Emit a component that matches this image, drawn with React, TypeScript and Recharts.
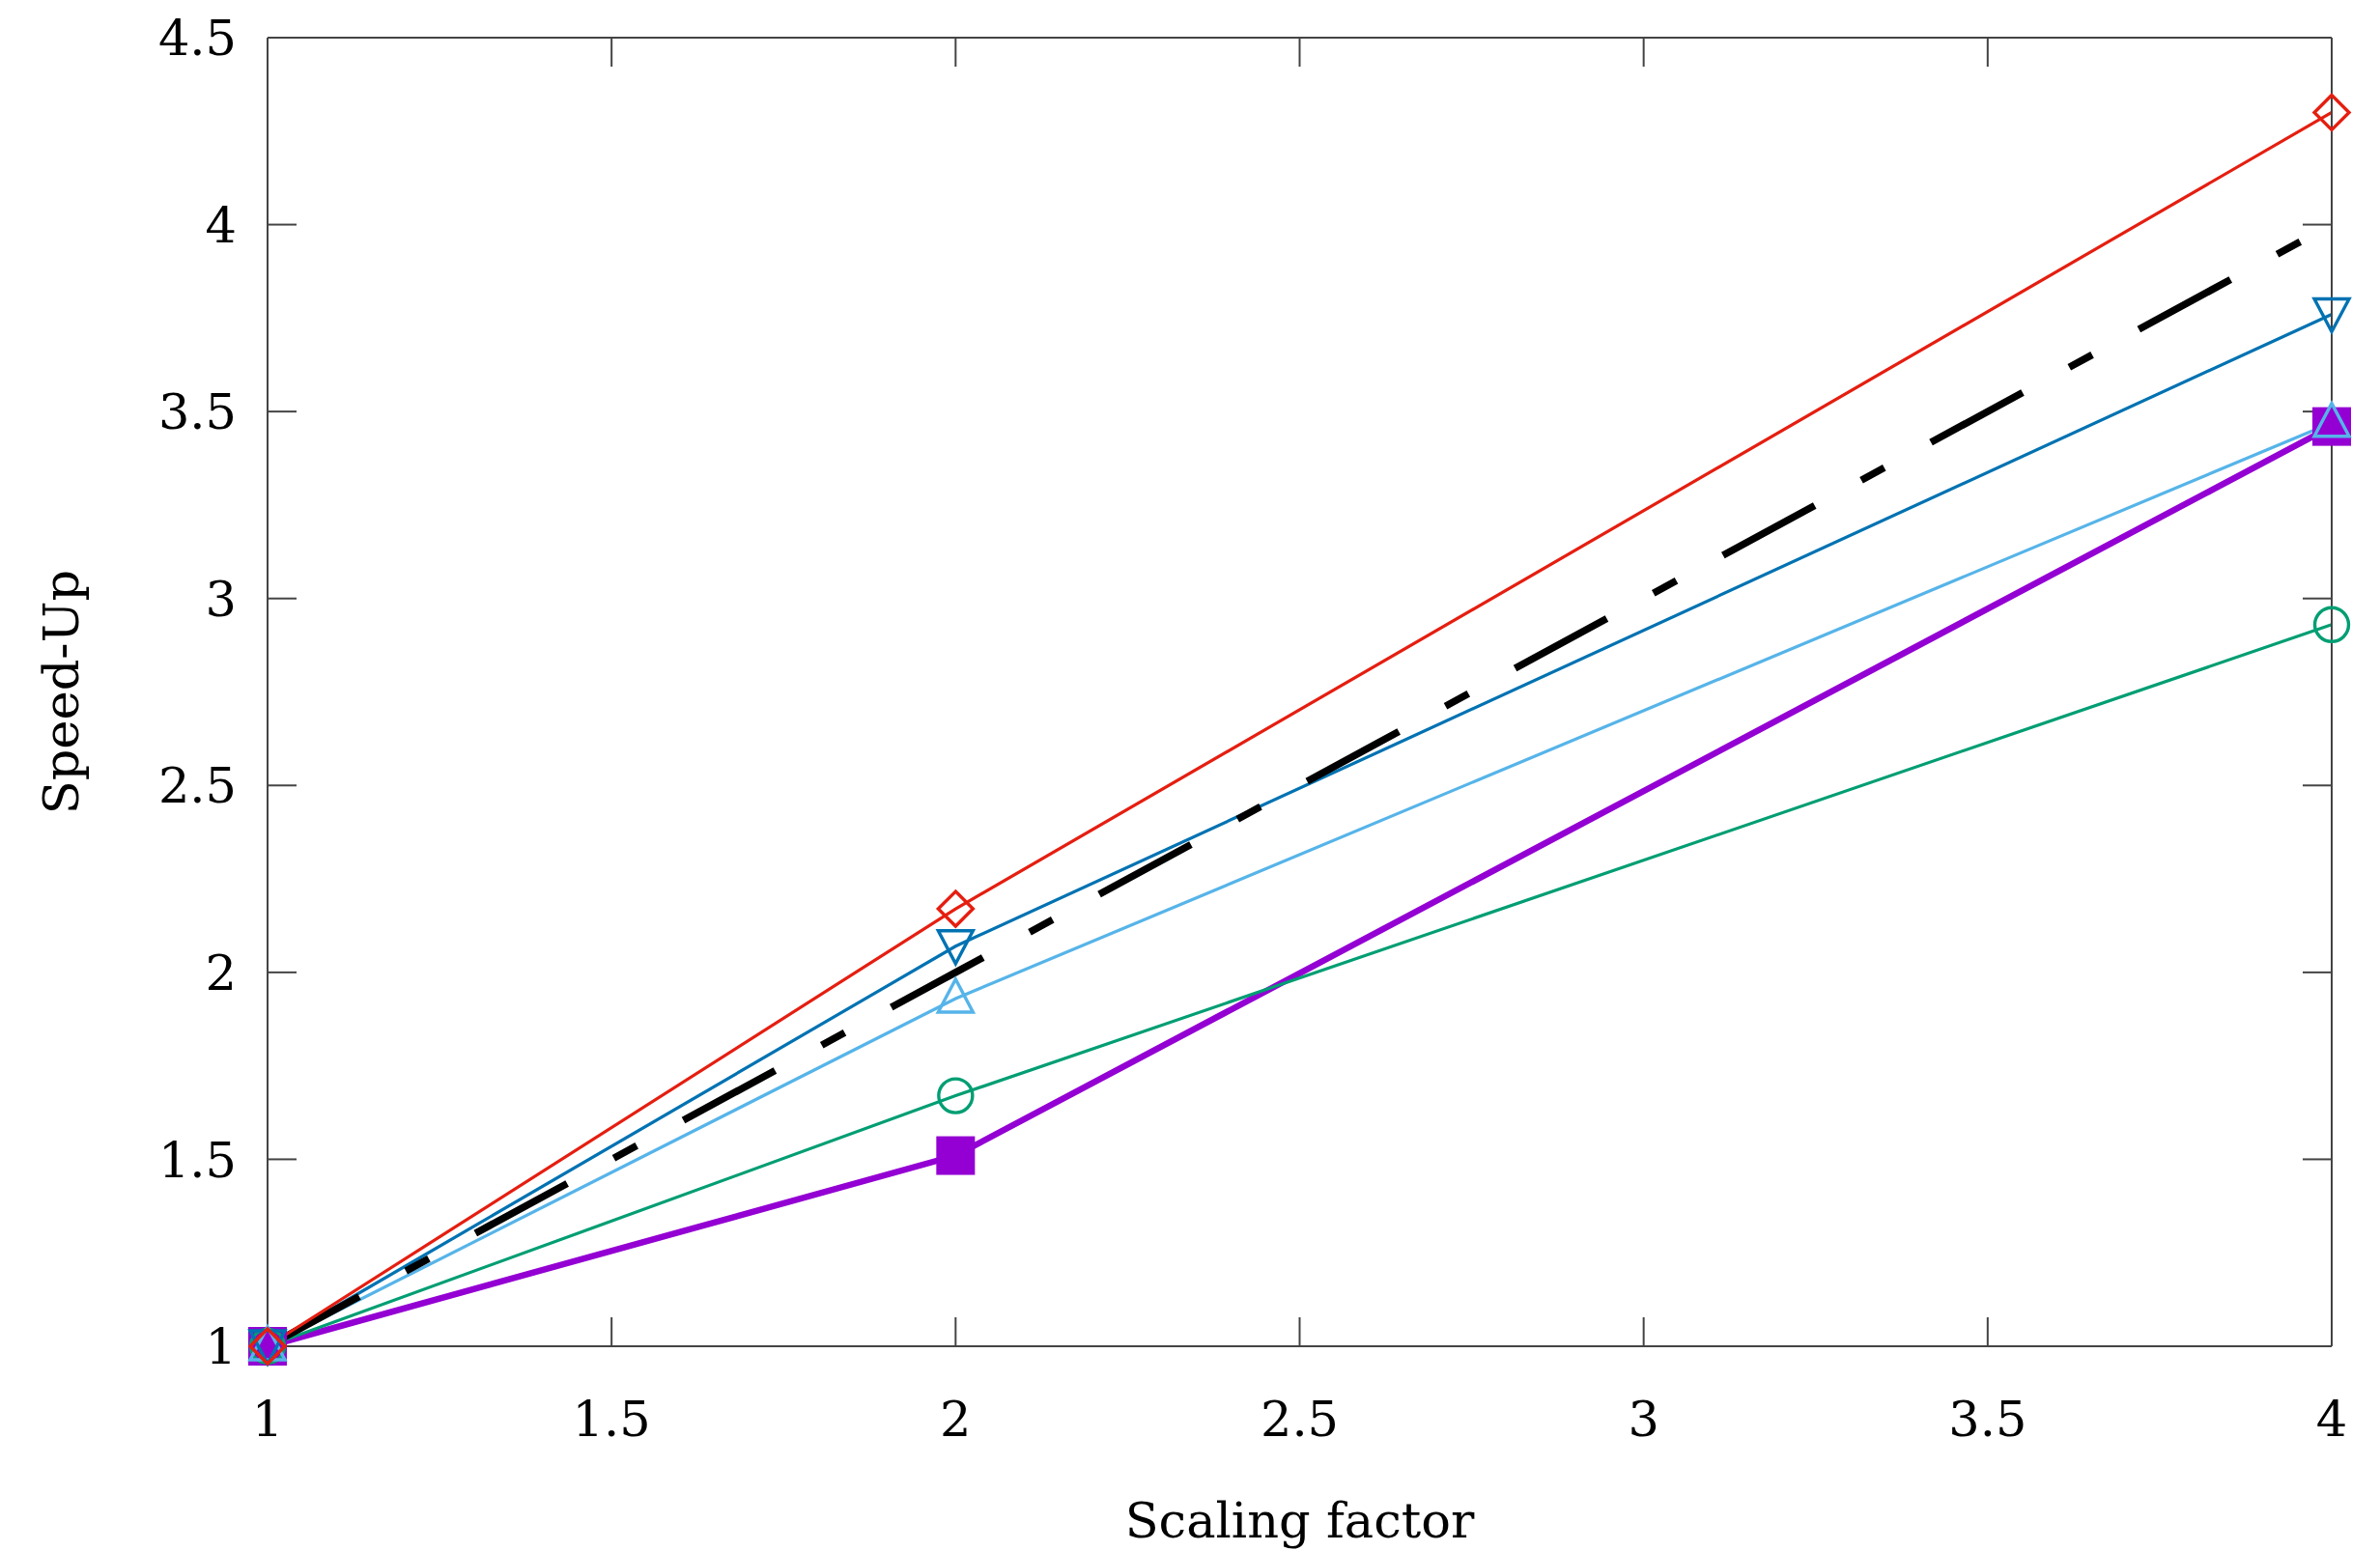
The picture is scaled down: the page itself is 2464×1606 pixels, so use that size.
import { LineChart, Line, XAxis, YAxis } from "recharts";

const scalingFactors = [1, 2, 4];
const idealSpeedUp = [1, 2, 4];
const redDiamond = [1, 2.17, 4.3];
const blueDown = [1, 2.07, 3.76];
const skyUp = [1, 1.93, 3.47];
const greenCircle = [1, 1.67, 2.93];
const purpleSquare = [1, 1.51, 3.46];

const xTicks = [1, 1.5, 2, 2.5, 3, 3.5, 4];
const yTicks = [1, 1.5, 2, 2.5, 3, 3.5, 4, 4.5];

const data = scalingFactors.map((x, i) => ({
  x,
  ideal: idealSpeedUp[i],
  red: redDiamond[i],
  blue: blueDown[i],
  sky: skyUp[i],
  green: greenCircle[i],
  purple: purpleSquare[i],
}));

const FONT = "'DejaVu Serif', serif";
const AXIS = "#444";
const tickStyle = { fill: "#000", fontSize: 51, fontFamily: FONT };
// mirrored frame axes: keep the tick marks, draw no labels
const noLabel = (p: any) => <g key={`t-${p.index}`} />;

type Shape = "diamond" | "down" | "up" | "circle" | "square";

const makeDot = (shape: Shape, color: string) => (props: any) => {
  const { cx, cy, index } = props;
  const key = `${shape}-${index}`;
  if (cx == null || cy == null) return <g key={key} />;
  const sw = 3.4;
  switch (shape) {
    case "diamond":
      return (
        <path
          key={key}
          d={`M${cx},${cy - 18}L${cx + 18},${cy}L${cx},${cy + 18}L${cx - 18},${cy}Z`}
          fill="none"
          stroke={color}
          strokeWidth={sw}
        />
      );
    case "down":
      return (
        <path
          key={key}
          d={`M${cx - 18},${cy - 16}L${cx + 18},${cy - 16}L${cx},${cy + 18}Z`}
          fill="none"
          stroke={color}
          strokeWidth={sw}
        />
      );
    case "up":
      return (
        <path
          key={key}
          d={`M${cx - 18},${cy + 14}L${cx + 18},${cy + 14}L${cx},${cy - 20}Z`}
          fill="none"
          stroke={color}
          strokeWidth={sw}
        />
      );
    case "circle":
      return <circle key={key} cx={cx} cy={cy} r={17.5} fill="none" stroke={color} strokeWidth={sw} />;
    default:
      return <rect key={key} x={cx - 20} y={cy - 20} width={40} height={40} fill={color} />;
  }
};

export default function App() {
  return (
    <div style={{ width: 2464, height: 1606, background: "#fff" }}>
      <style>{"body{margin:0;background:#fff}"}</style>
      <LineChart
        width={2464}
        height={1606}
        data={data}
        margin={{ top: 38, right: 49, left: 0, bottom: 0 }}
      >
        <XAxis
          dataKey="x"
          type="number"
          domain={[1, 4]}
          ticks={xTicks}
          height={212}
          tickSize={-30}
          tickMargin={87}
          tick={tickStyle}
          axisLine={{ stroke: AXIS, strokeWidth: 2 }}
          tickLine={{ stroke: AXIS, strokeWidth: 2 }}
          label={{
            value: "Scaling factor",
            position: "insideBottom",
            offset: 14,
            style: { fill: "#000", fontSize: 51, fontFamily: FONT },
          }}
        />
        <XAxis
          xAxisId="top"
          orientation="top"
          dataKey="x"
          type="number"
          domain={[1, 4]}
          allowDataOverflow
          ticks={xTicks}
          height={1}
          tickSize={-30}
          tick={noLabel}
          axisLine={{ stroke: AXIS, strokeWidth: 2 }}
          tickLine={{ stroke: AXIS, strokeWidth: 2 }}
        />
        <YAxis
          type="number"
          domain={[1, 4.5]}
          ticks={yTicks}
          width={277}
          tickSize={-30}
          tickMargin={62}
          tick={tickStyle}
          axisLine={{ stroke: AXIS, strokeWidth: 2 }}
          tickLine={{ stroke: AXIS, strokeWidth: 2 }}
          label={{
            value: "Speed-Up",
            angle: -90,
            position: "insideLeft",
            offset: 63,
            style: { fill: "#000", fontSize: 51, fontFamily: FONT, textAnchor: "middle" },
          }}
        />
        <YAxis
          yAxisId="right"
          orientation="right"
          type="number"
          domain={[1, 4.5]}
          allowDataOverflow
          ticks={yTicks}
          width={1}
          tickSize={-30}
          tick={noLabel}
          axisLine={{ stroke: AXIS, strokeWidth: 2 }}
          tickLine={{ stroke: AXIS, strokeWidth: 2 }}
        />

        {/* invisible series so the mirrored frame axes get a domain */}
        <Line
          xAxisId="top"
          yAxisId="right"
          dataKey="ideal"
          stroke="none"
          dot={false}
          activeDot={false}
          isAnimationActive={false}
        />

        <Line
          dataKey="purple"
          stroke="#9400d3"
          strokeWidth={6.5}
          dot={makeDot("square", "#9400d3")}
          isAnimationActive={false}
        />
        <Line
          dataKey="green"
          stroke="#009e73"
          strokeWidth={3.2}
          dot={makeDot("circle", "#009e73")}
          isAnimationActive={false}
        />
        <Line
          dataKey="sky"
          stroke="#56b4e9"
          strokeWidth={3.2}
          dot={makeDot("up", "#56b4e9")}
          isAnimationActive={false}
        />
        <Line
          dataKey="blue"
          stroke="#0072b2"
          strokeWidth={3.2}
          dot={makeDot("down", "#0072b2")}
          isAnimationActive={false}
        />
        <Line
          dataKey="ideal"
          stroke="#000"
          strokeWidth={7.5}
          strokeDasharray="108 55 27 55"
          dot={false}
          isAnimationActive={false}
        />
        <Line
          dataKey="red"
          stroke="#e51e10"
          strokeWidth={3.2}
          dot={makeDot("diamond", "#e51e10")}
          isAnimationActive={false}
        />
      </LineChart>
    </div>
  );
}
